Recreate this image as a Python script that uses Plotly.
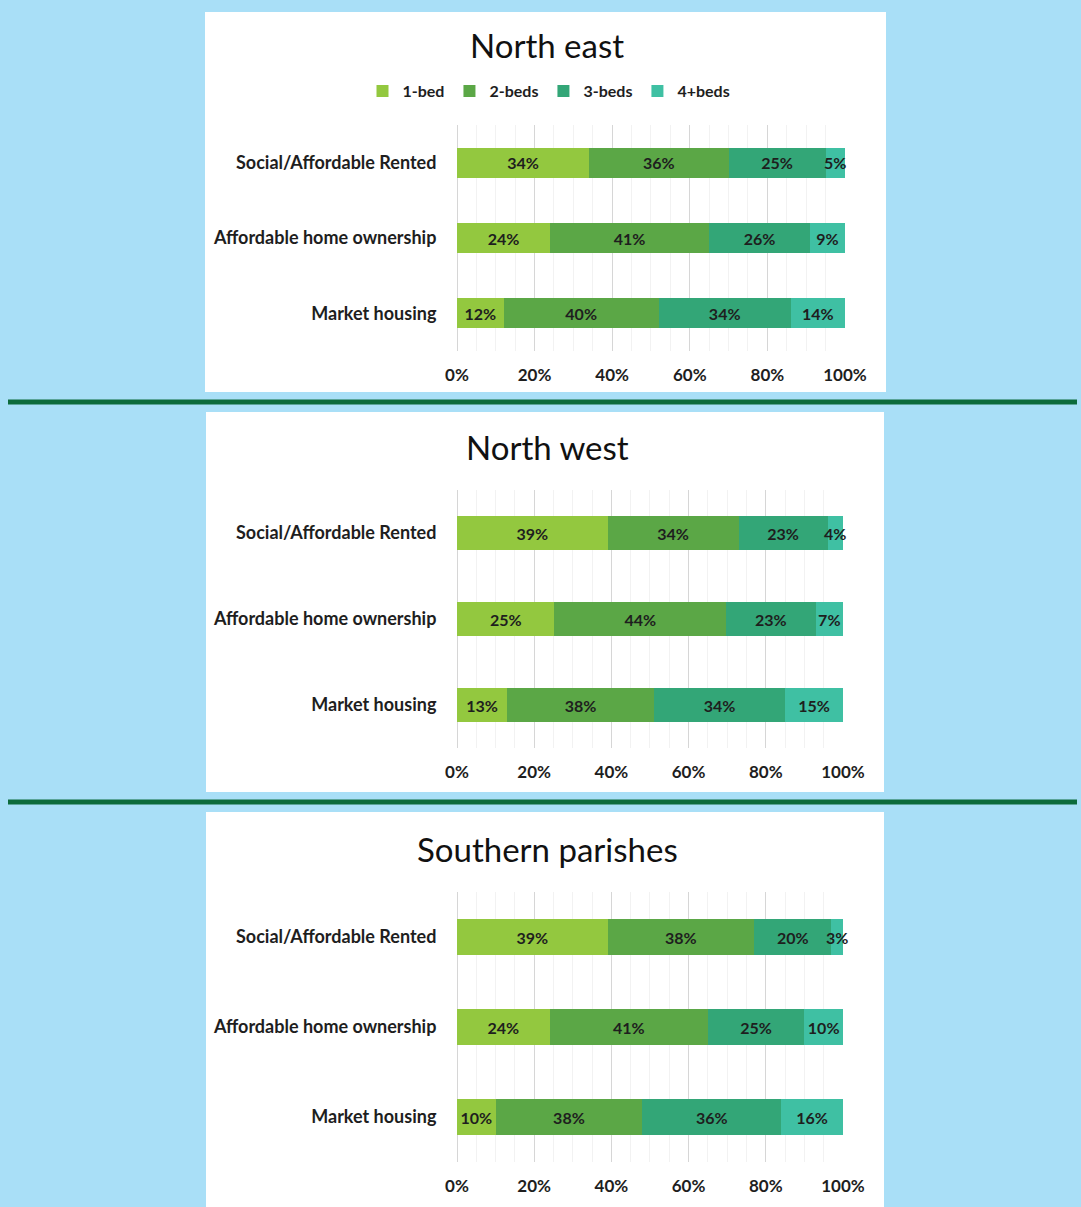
import plotly.graph_objects as go

W, H = 1081, 1207

# Housing mix by tenure, three sub-areas
tenures = ["Social/Affordable Rented", "Affordable home ownership", "Market housing"]
sizes = ["1-bed", "2-beds", "3-beds", "4+beds"]
colors = ["#93c83f", "#5ba746", "#33a677", "#3fc0a3"]

north_east_1bed = [34, 24, 12]
north_east_2beds = [36, 41, 40]
north_east_3beds = [25, 26, 34]
north_east_4beds = [5, 9, 14]

north_west_1bed = [39, 25, 13]
north_west_2beds = [34, 44, 38]
north_west_3beds = [23, 23, 34]
north_west_4beds = [4, 7, 15]

southern_1bed = [39, 24, 10]
southern_2beds = [38, 41, 38]
southern_3beds = [20, 25, 36]
southern_4beds = [3, 10, 16]

x_ticks = [0, 20, 40, 60, 80, 100]
x_tick_text = ["0%", "20%", "40%", "60%", "80%", "100%"]

panels = [
    {"title": "North east", "series": [north_east_1bed, north_east_2beds, north_east_3beds, north_east_4beds],
     "box": (205, 12, 886, 392), "title_y": 45, "plot": (457, 845, 125, 351), "legend": True},
    {"title": "North west", "series": [north_west_1bed, north_west_2beds, north_west_3beds, north_west_4beds],
     "box": (206, 412, 884, 792), "title_y": 447, "plot": (457, 843, 490, 748), "legend": False},
    {"title": "Southern parishes", "series": [southern_1bed, southern_2beds, southern_3beds, southern_4beds],
     "box": (206, 812, 884, 1207), "title_y": 849, "plot": (457, 843, 892, 1162), "legend": False},
]
separators_y = [402, 802]

FONT = "Lato"
TEXT = "#1e1e1e"


def px_x(x):
    return x / W


def px_y(y):
    return 1 - y / H


fig = go.Figure()
shapes = []
annotations = []

for i, p in enumerate(panels):
    n = "" if i == 0 else str(i + 1)
    xa, ya = "x" + n, "y" + n
    for s, name in enumerate(sizes):
        vals = p["series"][s]
        fig.add_trace(go.Bar(
            x=vals, y=tenures, orientation="h", name=name,
            marker=dict(color=colors[s], line=dict(width=0)),
            text=[f"{v}%" for v in vals], texttemplate="%{text}",
            textposition="inside", insidetextanchor="middle", constraintext="none",
            textangle=0, cliponaxis=False,
            textfont=dict(family=FONT, size=16, color=TEXT, weight="bold"),
            xaxis=xa, yaxis=ya, showlegend=p["legend"], legendgroup=name,
            width=0.4, hoverinfo="skip",
        ))

    x0, x1, y0, y1 = p["plot"]
    xkey = "xaxis" + n
    ykey = "yaxis" + n
    fig.layout[xkey] = dict(
        domain=[px_x(x0), px_x(x1)], range=[0, 100.01], anchor=ya,
        tickvals=x_ticks, ticktext=x_tick_text,
        showgrid=True, gridcolor="#d6d6d6", gridwidth=1,
        zeroline=True, zerolinecolor="#d6d6d6", zerolinewidth=1,
        minor=dict(dtick=5, showgrid=True, gridcolor="#f2f2f2", gridwidth=1),
        ticks="outside", ticklen=9, tickcolor="rgba(0,0,0,0)",
        tickfont=dict(family=FONT, size=17, color=TEXT, weight="bold"),
        showline=False, fixedrange=True, automargin=False,
    )
    fig.layout[ykey] = dict(
        domain=[px_y(y1), px_y(y0)], anchor=xa, autorange="reversed",
        type="category",
        showgrid=False, zeroline=False, showline=False,
        ticks="outside", ticklen=16, tickcolor="rgba(0,0,0,0)",
        tickfont=dict(family=FONT, size=18, color=TEXT, weight="bold"),
        fixedrange=True, automargin=False,
    )

    bx0, by0, bx1, by1 = p["box"]
    shapes.append(dict(type="rect", xref="paper", yref="paper",
                       x0=px_x(bx0), x1=px_x(bx1), y0=px_y(by1), y1=px_y(by0),
                       fillcolor="white", line=dict(width=0), layer="below"))
    annotations.append(dict(text=p["title"], xref="paper", yref="paper",
                            x=px_x(547), y=px_y(p["title_y"]), xanchor="center", yanchor="middle",
                            showarrow=False, font=dict(family=FONT, size=33, color="#111111")))

for sy in separators_y:
    shapes.append(dict(type="line", xref="paper", yref="paper",
                       x0=px_x(8), x1=px_x(1077), y0=px_y(sy), y1=px_y(sy),
                       line=dict(color="#0c6b3b", width=5), layer="above"))

fig.update_layout(
    width=W, height=H, margin=dict(l=0, r=0, t=0, b=0, autoexpand=False),
    paper_bgcolor="#a9dff7", plot_bgcolor="rgba(0,0,0,0)",
    barmode="stack", barnorm="percent",
    shapes=shapes, annotations=annotations,
    legend=dict(orientation="h", x=px_x(549), y=px_y(91), xanchor="center", yanchor="middle",
                font=dict(family=FONT, size=16, color=TEXT, weight="bold"),
                bgcolor="rgba(0,0,0,0)", itemwidth=30, traceorder="normal"),
    font=dict(family=FONT),
)

fig.write_html("out.html")
